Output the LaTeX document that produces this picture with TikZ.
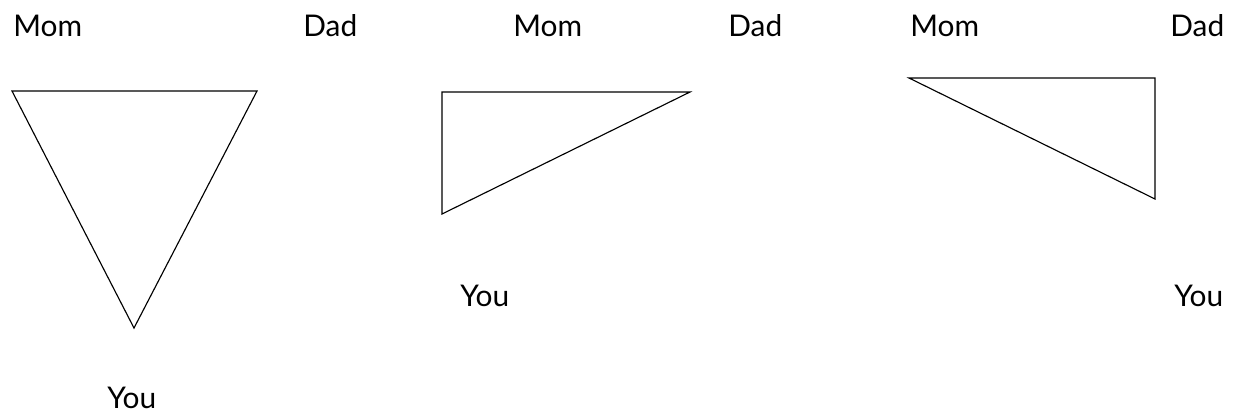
\documentclass[tikz,border=0pt]{standalone}
\usepackage{fontspec}
\setmainfont{Lato}
\usepackage{tikz}
\usetikzlibrary{positioning}
\tikzset{
  who/.style   = {anchor=base west, inner sep=0pt, font=\fontsize{17}{20}\selectfont},
  edge/.style  = {draw, line width=0.65pt, line join=miter}
}

\begin{document}
\begin{tikzpicture}[x=0.02cm, y=-0.02cm]
  \useasboundingbox (0,0) rectangle (1237,414);
  % labels
  \node[who] (mom1) at (13,36)   {Mom};
  \node[who] (dad1) at (303,36)  {Dad};
  \node[who] (you1) at (107,408) {You};
  \node[who] (mom2) at (513,36)  {Mom};
  \node[who] (dad2) at (728,36)  {Dad};
  \node[who] (you2) at (460,306) {You};
  \node[who] (mom3) at (910,36)  {Mom};
  \node[who] (dad3) at (1170,36) {Dad};
  \node[who] (you3) at (1174,306) {You};
  % corners
  \coordinate (a1) at (12,91);   \coordinate (b1) at (257,91);   \coordinate (c1) at (134,328);
  \coordinate (a2) at (442,92);  \coordinate (b2) at (690,92);   \coordinate (c2) at (442,214);
  \coordinate (a3) at (909,78);  \coordinate (b3) at (1155,78);  \coordinate (c3) at (1155,199);
  \draw[edge] (a1) -- (b1) -- (c1) -- cycle;
  \draw[edge] (a2) -- (b2) -- (c2) -- cycle;
  \draw[edge] (a3) -- (b3) -- (c3) -- cycle;
\end{tikzpicture}
\end{document}
